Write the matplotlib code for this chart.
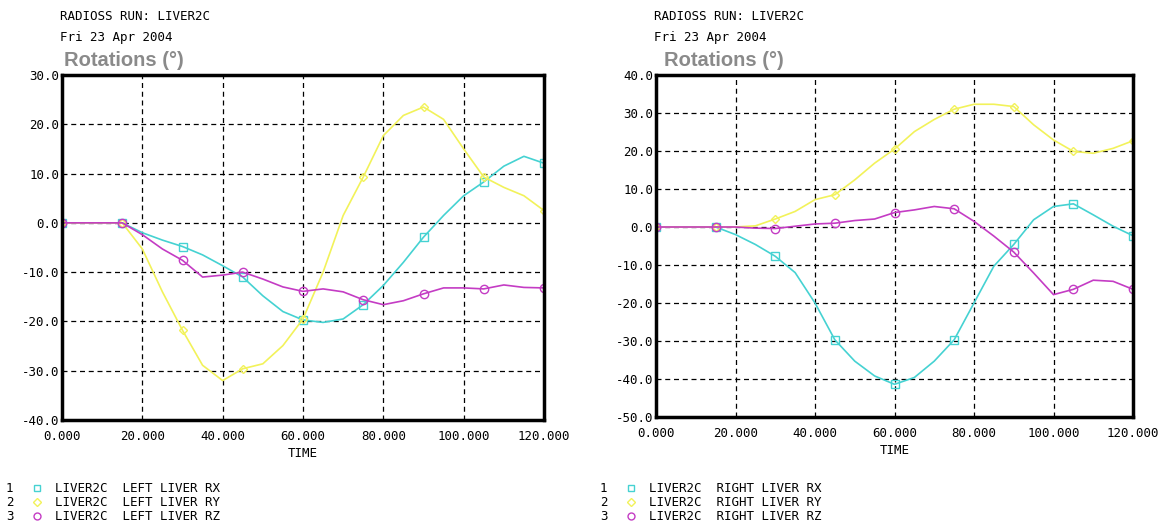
import numpy as np
import matplotlib.pyplot as plt

# time axis (every 5 units)
t = np.arange(0, 125, 5)

# left liver rotations
left_rx = [0, 0, 0, 0, -2.0, -3.5, -4.8, -6.5, -8.7, -11.0, -14.8, -18.0, -19.7,
           -20.2, -19.5, -16.6, -12.7, -8.0, -2.9, 1.5, 5.5, 8.3, 11.5, 13.5, 12.1]
left_ry = [0, 0, 0, 0, -5.3, -14.0, -21.8, -28.9, -32.0, -29.6, -28.6, -24.9, -19.5,
           -10.0, 1.5, 9.3, 17.7, 21.8, 23.5, 21.0, 15.0, 9.3, 7.2, 5.5, 2.5]
left_rz = [0, 0, 0, 0, -2.4, -5.3, -7.6, -11.0, -10.6, -10.0, -11.4, -13.0, -13.9,
           -13.4, -14.0, -15.6, -16.6, -15.8, -14.4, -13.2, -13.2, -13.4, -12.6, -13.1, -13.2]

# right liver rotations
right_rx = [0, 0, 0, 0, -2.0, -4.6, -7.7, -12.0, -20.0, -29.7, -35.3, -39.2, -41.4,
            -39.6, -35.3, -29.7, -20.0, -10.3, -4.6, 1.9, 5.4, 6.1, 3.2, 0.2, -2.3]
right_ry = [0, 0, 0, 0, 0, 0.3, 2.1, 4.1, 7.2, 8.5, 12.4, 16.8, 20.5,
            25.1, 28.3, 31.0, 32.3, 32.3, 31.7, 26.9, 22.9, 19.9, 19.4, 20.7, 22.7]
right_rz = [0, 0, 0, 0, 0, -0.3, -0.4, 0.2, 0.8, 1.0, 1.7, 2.1, 3.8,
            4.5, 5.4, 4.8, 1.5, -2.4, -6.6, -12.1, -17.8, -16.4, -14.0, -14.3, -16.4]

W, H = 1166, 527
fig = plt.figure(figsize=(W / 100, H / 100), dpi=100)
mono = 'DejaVu Sans Mono'

c_x = '#45d2d2'
c_y = '#f2f25a'
c_z = '#c43cc4'


def panel(box, title_x, ylim, rx, ry, rz, side):
    x0, x1, ytop, ybot = box
    ax = fig.add_axes([x0 / W, 1 - ybot / H, (x1 - x0) / W, (ybot - ytop) / H])
    mk = dict(markevery=3, markersize=6, markerfacecolor='none', markeredgewidth=1)
    ax.plot(t, rx, color=c_x, lw=1.2, marker='s', markeredgecolor=c_x, **mk)
    ax.plot(t, ry, color=c_y, lw=1.2, marker='D', markeredgecolor=c_y,
            markevery=3, markersize=4, markerfacecolor='none')
    ax.plot(t, rz, color=c_z, lw=1.2, marker='o', markeredgecolor=c_z, **mk)
    ax.set_xlim(0, 120)
    ax.set_ylim(*ylim)
    ax.set_xticks(np.arange(0, 121, 20))
    ax.set_xticklabels(['%.3f' % v for v in np.arange(0, 121, 20)])
    yt = np.arange(ylim[0], ylim[1] + 1, 10)
    ax.set_yticks(yt)
    ax.set_yticklabels(['%.1f' % v for v in yt])
    ax.tick_params(length=0, labelsize=9)
    ax.tick_params(axis='x', pad=7)
    ax.tick_params(axis='y', pad=2)
    for lab in ax.get_xticklabels() + ax.get_yticklabels():
        lab.set_family(mono)
    ax.grid(True, color='black', linestyle=(0, (4, 3)), lw=0.9)
    for s in ax.spines.values():
        s.set_linewidth(2.5)
    ax.set_xlabel('TIME', family=mono, fontsize=9, labelpad=3)

    fig.text((x0 - 2) / W, 1 - 17 / H, 'RADIOSS RUN: LIVER2C', family=mono,
             fontsize=9, va='center')
    fig.text((x0 - 2) / W, 1 - 37 / H, 'Fri 23 Apr 2004', family=mono,
             fontsize=9, va='center')
    fig.text(title_x / W, 1 - 60 / H, 'Rotations (°)', fontsize=14.5,
             fontweight='bold', color='#8a8a8a', va='center', family='Liberation Sans')

    lx = x0 - 57
    rows = [(1, 's', c_x, 'RX'), (2, 'D', c_y, 'RY'), (3, 'o', c_z, 'RZ')]
    for i, (n, m, c, lab) in enumerate(rows):
        yy = 1 - (488 + 14 * i) / H
        fig.text((lx + 1) / W, yy, str(n), family=mono, fontsize=9, va='center')
        fig.lines.append(plt.Line2D([(lx + 32) / W], [yy], marker=m, color=c,
                                    markerfacecolor='none', markersize=5 if m != 'D' else 4,
                                    transform=fig.transFigure, figure=fig))
        fig.text((lx + 50) / W, yy, 'LIVER2C  %s LIVER %s' % (side, lab),
                 family=mono, fontsize=9, va='center')
    return ax


panel((62, 544, 75, 420), 64, (-40, 30), left_rx, left_ry, left_rz, 'LEFT')
panel((656, 1133, 75, 417), 664, (-50, 40), right_rx, right_ry, right_rz, 'RIGHT')

fig.savefig('out.png', dpi=100)
